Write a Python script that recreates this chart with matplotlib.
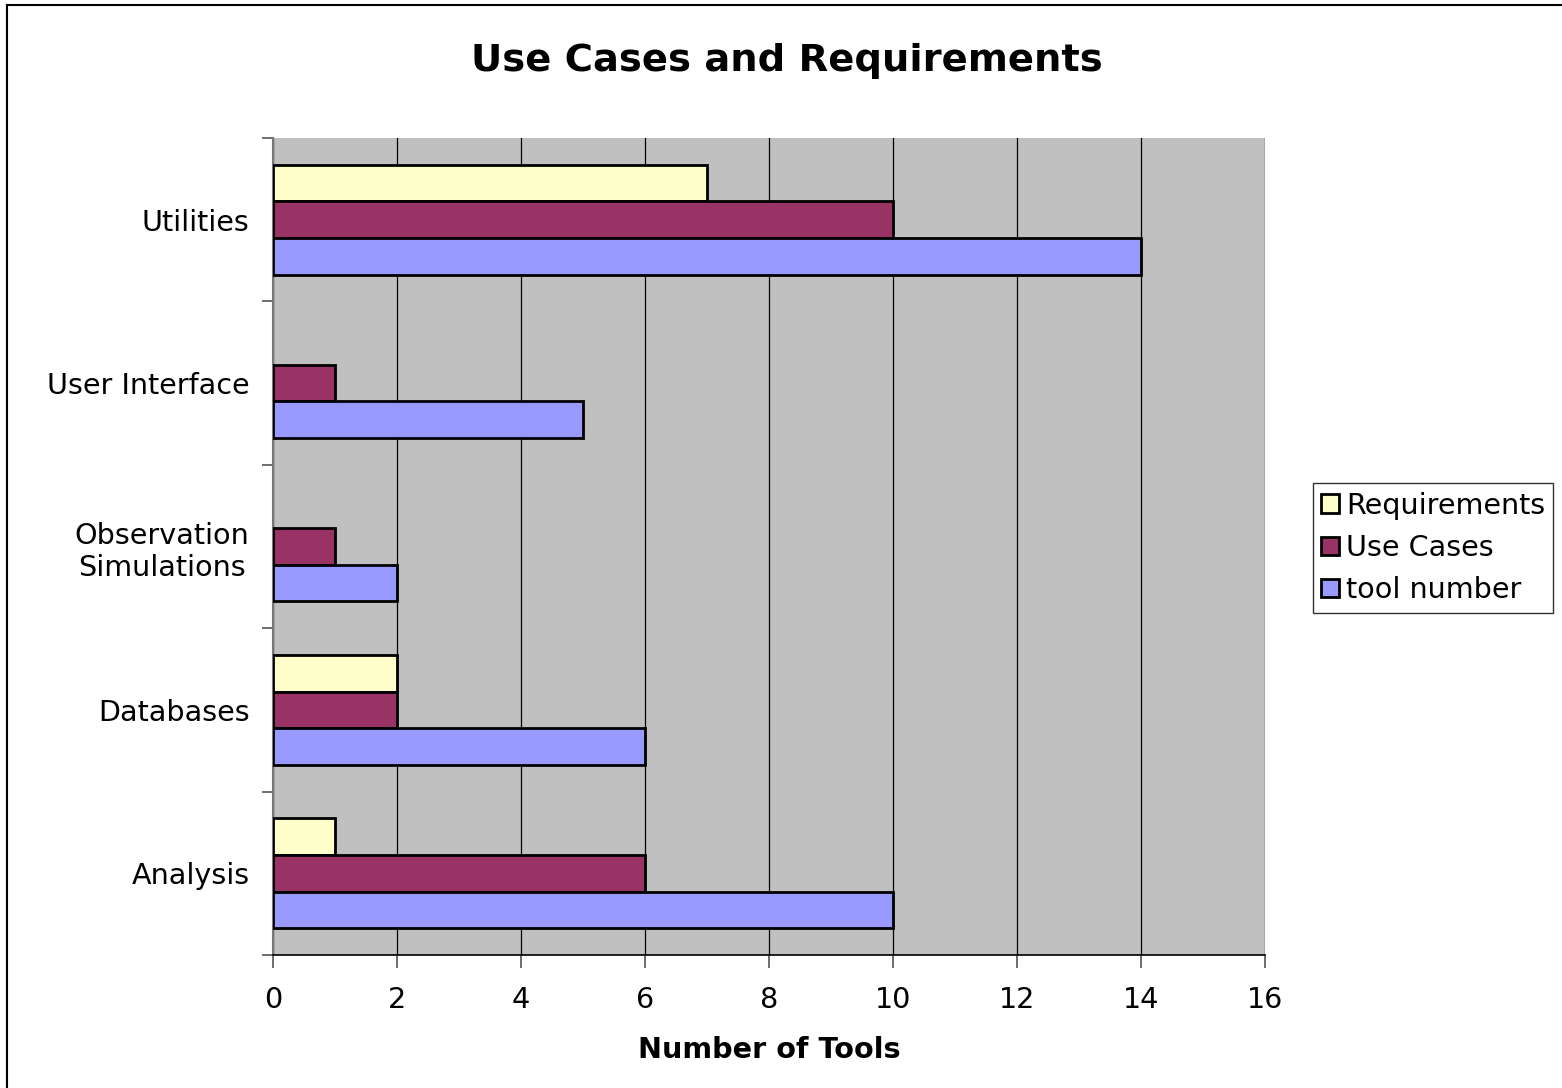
import matplotlib
matplotlib.use("Agg")
import matplotlib.pyplot as plt
from matplotlib.lines import Line2D
import numpy as np

categories = ["Analysis", "Databases", "Observation\nSimulations", "User Interface", "Utilities"]
requirements = [1, 2, 0, 0, 7]
use_cases = [6, 2, 1, 1, 10]
tool_number = [10, 6, 2, 5, 14]

series = [
    ("Requirements", requirements, "#FFFFCC"),
    ("Use Cases", use_cases, "#993366"),
    ("tool number", tool_number, "#9999FF"),
]

fs = 20.6

fig = plt.figure(figsize=(15.62, 10.88), dpi=100)
ax = fig.add_axes([0.1748, 0.1222, 0.6351, 0.7510])
ax.set_facecolor("#C0C0C0")

y = np.arange(len(categories))
h = 0.224
offsets = [h, 0, -h]
for (name, vals, col), off in zip(series, offsets):
    vals = np.array(vals)
    keep = vals > 0
    ax.barh(y[keep] + off, vals[keep], height=h, color=col,
            edgecolor="black", linewidth=2, zorder=3)

ax.set_xlim(0, 16)
ax.set_ylim(-0.5, len(categories) - 0.5)
ax.set_xticks(np.arange(0, 17, 2))
ax.tick_params(axis="x", direction="out", length=9, width=1.2, color="#555555",
               labelsize=fs, pad=13)
ax.grid(axis="x", color="black", linewidth=0.9, zorder=1)

# category boundaries carry the tick marks, centers carry the labels
ax.set_yticks(np.arange(-0.5, len(categories), 1.0))
ax.set_yticklabels([])
ax.set_yticks(y, minor=True)
ax.set_yticklabels(categories, minor=True, fontsize=fs, ha="right",
                   multialignment="center")
ax.tick_params(axis="y", which="major", direction="out", length=8, width=1.2,
               color="#555555")
ax.tick_params(axis="y", which="minor", length=0, pad=17)

for s in ["top", "right"]:
    ax.spines[s].set_visible(False)
ax.spines["left"].set_color("#777777")
ax.spines["left"].set_linewidth(1.5)
ax.spines["bottom"].set_color("black")
ax.spines["bottom"].set_linewidth(1.2)

ax.set_xlabel("Number of Tools", fontsize=fs, fontweight="bold", labelpad=16)
fig.text(0.5035, 0.944, "Use Cases and Requirements", ha="center", va="center",
         fontsize=27.7, fontweight="bold")

handles = [plt.Rectangle((0, 0), 1, 1, facecolor=c, edgecolor="black", linewidth=2)
           for _, _, c in series]
leg = fig.legend(handles, [n for n, _, _ in series], loc="center left",
                 bbox_to_anchor=(0.8405, 0.4965), fontsize=fs, frameon=True,
                 fancybox=False, handlelength=0.6, handleheight=0.6,
                 handletextpad=0.25, labelspacing=0.5, borderpad=0.3,
                 borderaxespad=0)
leg.get_frame().set_edgecolor("black")
leg.get_frame().set_linewidth(1.0)

# outer frame line along the top and left edges
fig.add_artist(Line2D([7 / 1562, 7 / 1562], [0, 1 - 5 / 1088], color="black",
                      linewidth=1.5, transform=fig.transFigure))
fig.add_artist(Line2D([7 / 1562, 1], [1 - 5 / 1088, 1 - 5 / 1088], color="black",
                      linewidth=1.5, transform=fig.transFigure))

fig.savefig("out.png", dpi=100)
